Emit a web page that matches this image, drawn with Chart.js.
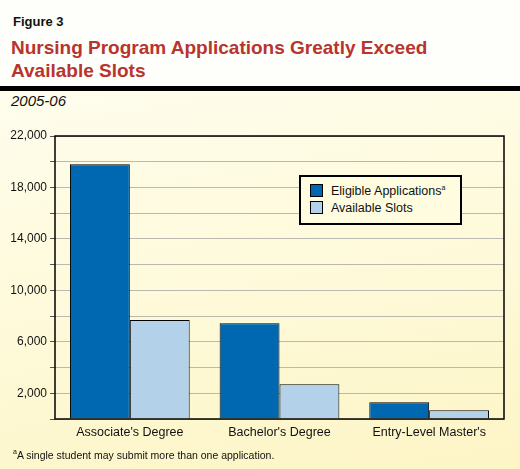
<!DOCTYPE html>
<html>
<head>
<meta charset="utf-8">
<script src="https://cdn.jsdelivr.net/npm/chart.js@4/dist/chart.umd.min.js"></script>
<style>
  html, body { margin: 0; padding: 0; }
  body { width: 520px; height: 469px; position: relative; overflow: hidden;
         font-family: "Liberation Sans", Arial, sans-serif;
         background: linear-gradient(170deg, #fffef4 0%, #fefbe0 45%, #fdf5c6 100%); }
  #head { position: absolute; left: 0; top: 0; width: 520px; height: 87px; background: #fefefa; }
  #rule { position: absolute; left: 0; top: 86px; width: 520px; height: 5px; background: #000; }
  .t { position: absolute; white-space: nowrap; }
  #fig { left: 13px; top: 14px; font-size: 13px; font-weight: bold; color: #111; }
  #title { left: 11px; top: 36px; font-size: 19px; font-weight: bold; color: #b8342e; line-height: 23px; }
  #sub { left: 11px; top: 92px; font-size: 15px; font-style: italic; color: #111; }
  #foot { left: 13px; top: 448px; font-size: 10.5px; color: #111; }
  #foot sup { font-size: 7px; }
  #legend { position: absolute; left: 299px; top: 175px; width: 159px; height: 46px;
            border: 2px solid #000; background: #fffcdf; font-size: 12.5px; color: #111; }
  .li { position: absolute; left: 9px; height: 14px; line-height: 14px; }
  .sw { display: inline-block; width: 11px; height: 11px; border: 1px solid #000; vertical-align: -2px; margin-right: 8px; }
  .li sup { font-size: 7px; vertical-align: 5px; line-height: 0; }
  canvas { position: absolute; left: 0; top: 0; }
</style>
</head>
<body>
<div id="head"></div>
<div id="rule"></div>
<div class="t" id="fig">Figure 3</div>
<div class="t" id="title">Nursing Program Applications Greatly Exceed<br>Available Slots</div>
<div class="t" id="sub">2005-06</div>
<canvas id="c" width="520" height="469"></canvas>
<div id="legend"></div>
<div class="t" id="foot"><sup>a</sup>A single student may submit more than one application.</div>
<script>
const categories = ["Associate's Degree", "Bachelor's Degree", "Entry-Level Master's"];
const eligibleApplications = [19800, 7450, 1300];
const availableSlots = [7700, 2700, 680];
const seriesNames = ["Eligible Applications", "Available Slots"];
const seriesColors = ["#0067b1", "#b3d2ea"];
const yTickLabels = [2000, 6000, 10000, 14000, 18000, 22000];

// legend
const lg = document.getElementById('legend');
seriesNames.forEach((n, i) => {
  const d = document.createElement('div');
  d.className = 'li';
  d.style.top = (7 + i * 17) + 'px';
  d.innerHTML = '<span class="sw" style="background:' + seriesColors[i] + '"></span>' + n + (i === 0 ? '<sup>a</sup>' : '');
  lg.appendChild(d);
});

const framePlugin = {
  id: 'frame',
  afterDatasetsDraw(chart) {
    const a = chart.chartArea, ctx = chart.ctx;
    ctx.save();
    ctx.strokeStyle = '#000';
    ctx.lineWidth = 1.5;
    ctx.strokeRect(a.left, a.top, a.right - a.left, a.bottom - a.top);
    ctx.restore();
  }
};

new Chart(document.getElementById('c'), {
  type: 'bar',
  data: {
    labels: categories,
    datasets: [
      { label: seriesNames[0], data: eligibleApplications, backgroundColor: seriesColors[0], borderColor: '#000', borderWidth: 1 },
      { label: seriesNames[1], data: availableSlots, backgroundColor: seriesColors[1], borderColor: '#000', borderWidth: 1 }
    ]
  },
  options: {
    responsive: false,
    animation: false,
    devicePixelRatio: 1,
    layout: { padding: { left: 0, right: 16, top: 136, bottom: 0 } },
    datasets: { bar: { categoryPercentage: 0.8, barPercentage: 1.0 } },
    plugins: { legend: { display: false }, tooltip: { enabled: false } },
    scales: {
      x: {
        grid: { display: false },
        border: { display: false },
        ticks: { color: '#111', font: { family: 'Liberation Sans', size: 12.5 }, padding: -2, maxRotation: 0 },
        afterFit(s) { s.height = 50; }
      },
      y: {
        min: 0, max: 22000,
        grid: { color: '#b9b9b0', lineWidth: 1, tickLength: 5, tickColor: '#555' },
        border: { display: false },
        ticks: {
          stepSize: 2000,
          color: '#111',
          font: { family: 'Liberation Sans', size: 12 },
          padding: 3,
          callback: v => yTickLabels.includes(v) ? v.toLocaleString('en-US') : ''
        },
        afterFit(s) { s.width = 55; }
      }
    }
  },
  plugins: [framePlugin]
});
</script>
</body>
</html>
